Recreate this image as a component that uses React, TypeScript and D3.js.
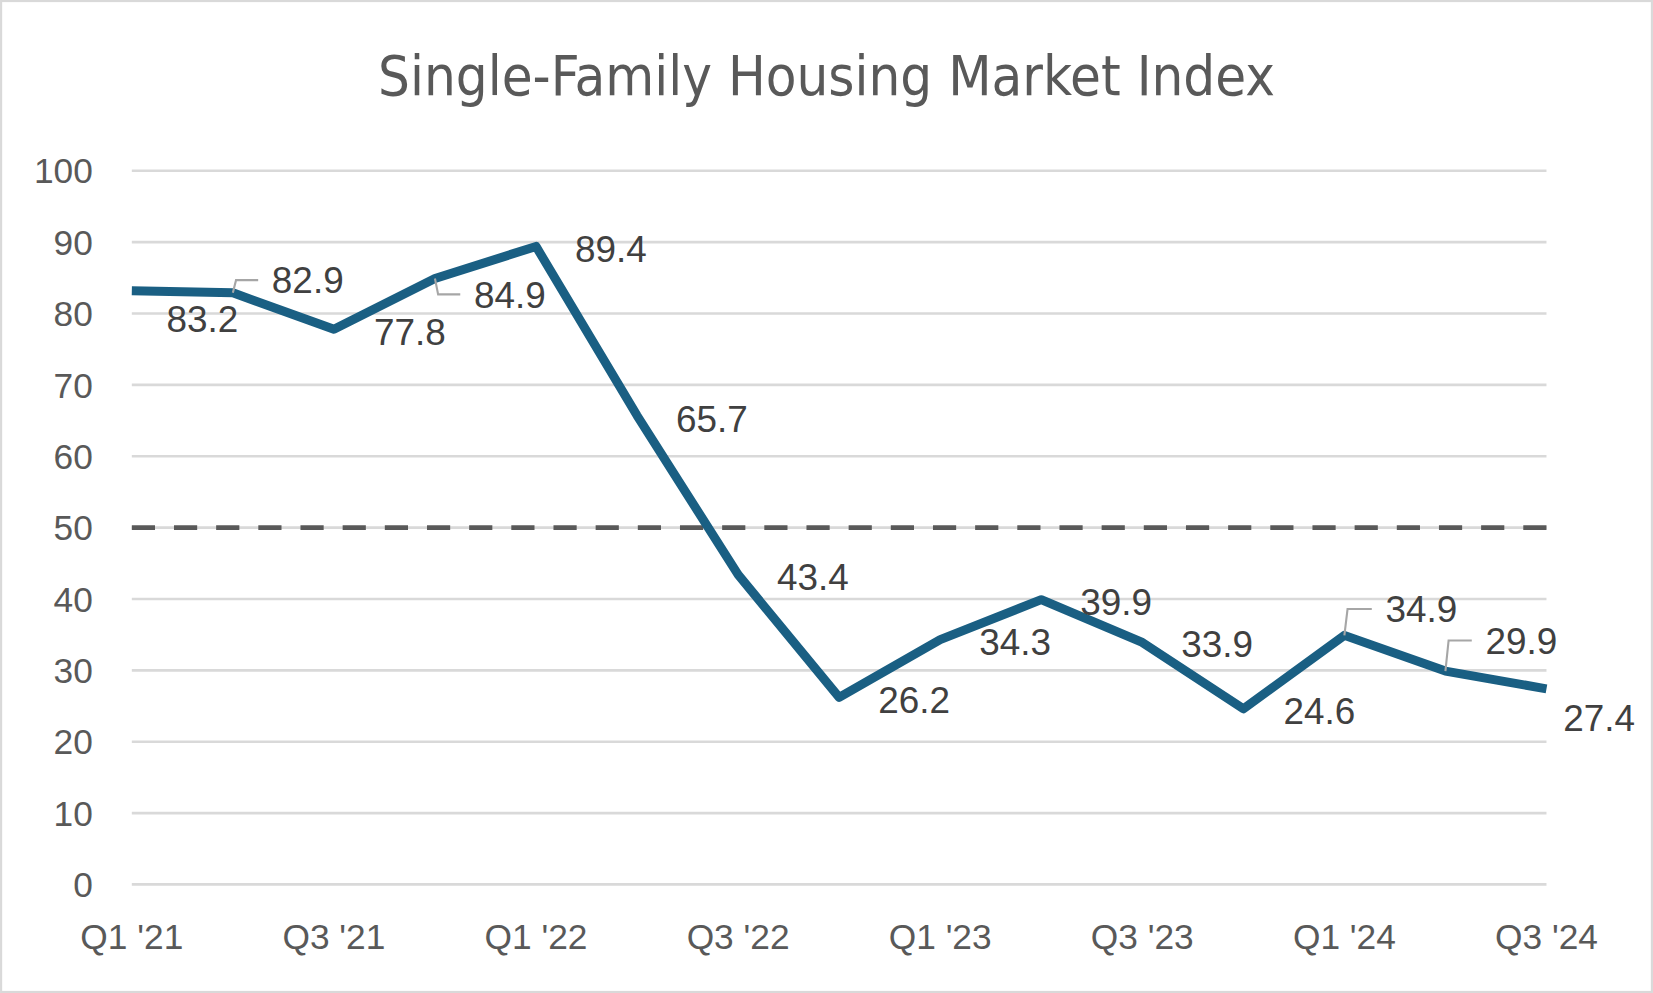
import { useEffect } from 'react';
import * as d3 from 'd3';

// Quarterly index values, Q1 '21 .. Q3 '24
const quarters = [
  "Q1 '21", "Q2 '21", "Q3 '21", "Q4 '21",
  "Q1 '22", "Q2 '22", "Q3 '22", "Q4 '22",
  "Q1 '23", "Q2 '23", "Q3 '23", "Q4 '23",
  "Q1 '24", "Q2 '24", "Q3 '24",
];
const indexValues = [83.2, 82.9, 77.8, 84.9, 89.4, 65.7, 43.4, 26.2, 34.3, 39.9, 33.9, 24.6, 34.9, 29.9, 27.4];
const yTicks = [0, 10, 20, 30, 40, 50, 60, 70, 80, 90, 100];
const xTickLabels = ["Q1 '21", "Q3 '21", "Q1 '22", "Q3 '22", "Q1 '23", "Q3 '23", "Q1 '24", "Q3 '24"];
const threshold = 50;

// label placement (offset of text from its point), some pulled away with a leader line
const labelLayout: { dx: number; dy: number; leader?: boolean }[] = [
  { dx: 33, dy: 27 },
  { dx: 37, dy: -12, leader: true },
  { dx: 38, dy: 2 },
  { dx: 37, dy: 15, leader: true },
  { dx: 37, dy: 2 },
  { dx: 37, dy: 3 },
  { dx: 37, dy: 2 },
  { dx: 37, dy: 2 },
  { dx: 37, dy: 2 },
  { dx: 37, dy: 2 },
  { dx: 37, dy: 1 },
  { dx: 38, dy: 2 },
  { dx: 39, dy: -25, leader: true },
  { dx: 38, dy: -29, leader: true },
  { dx: 16, dy: 27 },
];

const W = 1568;
const H = 942;
const margin = { top: 162, right: 101, bottom: 103, left: 125 };

export default function App() {
  useEffect(() => {
    document.body.style.margin = '0';
  }, []);

  const x = d3.scalePoint<string>()
    .domain(quarters)
    .range([margin.left, W - margin.right]);

  const y = d3.scaleLinear()
    .domain([0, 100])
    .range([H - margin.bottom, margin.top]);

  const line = d3.line<number>()
    .x((_, i) => x(quarters[i]) as number)
    .y(d => y(d));

  const font = '"Liberation Sans", Arial, sans-serif';

  return (
    <svg width={1653} height={993} viewBox={`0 0 ${W} ${H}`} style={{ display: 'block' }}>
      <rect x={1} y={1} width={W - 2} height={H - 2} fill="#fff" stroke="#d9d9d9" strokeWidth={2} />

      <text
        x={W / 2}
        y={90}
        textAnchor="middle"
        fill="#595959"
        fontSize={53}
        fontFamily='"Liberation Sans Narrow", "DejaVu Sans Condensed", sans-serif'
      >
        Single-Family Housing Market Index
      </text>

      {/* gridlines */}
      {yTicks.map(t => (
        <line key={t} x1={margin.left} x2={W - margin.right} y1={y(t)} y2={y(t)} stroke="#d9d9d9" strokeWidth={2.5} />
      ))}

      {/* y axis labels */}
      {yTicks.map(t => (
        <text key={t} x={88} y={y(t)} dy="0.36em" textAnchor="end" fill="#595959" fontSize={33.5} fontFamily={font}>
          {t}
        </text>
      ))}

      {/* x axis labels */}
      {xTickLabels.map(q => (
        <text key={q} x={x(q)} y={900} textAnchor="middle" fill="#595959" fontSize={33.5} fontFamily={font}>
          {q}
        </text>
      ))}

      {/* 50 threshold */}
      <line
        x1={margin.left}
        x2={W - margin.right}
        y1={y(threshold)}
        y2={y(threshold)}
        stroke="#595959"
        strokeWidth={4.5}
        strokeDasharray="22 18"
      />

      <path d={line(indexValues) ?? ''} fill="none" stroke="#1a5f83" strokeWidth={8.5} strokeLinejoin="round" />

      {/* data labels */}
      {indexValues.map((v, i) => {
        const px = x(quarters[i]) as number;
        const py = y(v);
        const { dx, dy, leader } = labelLayout[i];
        const tx = px + dx;
        const ty = py + dy;
        return (
          <g key={i}>
            {leader && (
              <polyline
                points={`${px},${py} ${px + 3},${ty} ${tx - 13},${ty}`}
                fill="none"
                stroke="#a6a6a6"
                strokeWidth={2}
              />
            )}
            <text x={tx} y={ty} dy="0.36em" fill="#404040" fontSize={35} fontFamily={font}>
              {v.toFixed(1)}
            </text>
          </g>
        );
      })}
    </svg>
  );
}
